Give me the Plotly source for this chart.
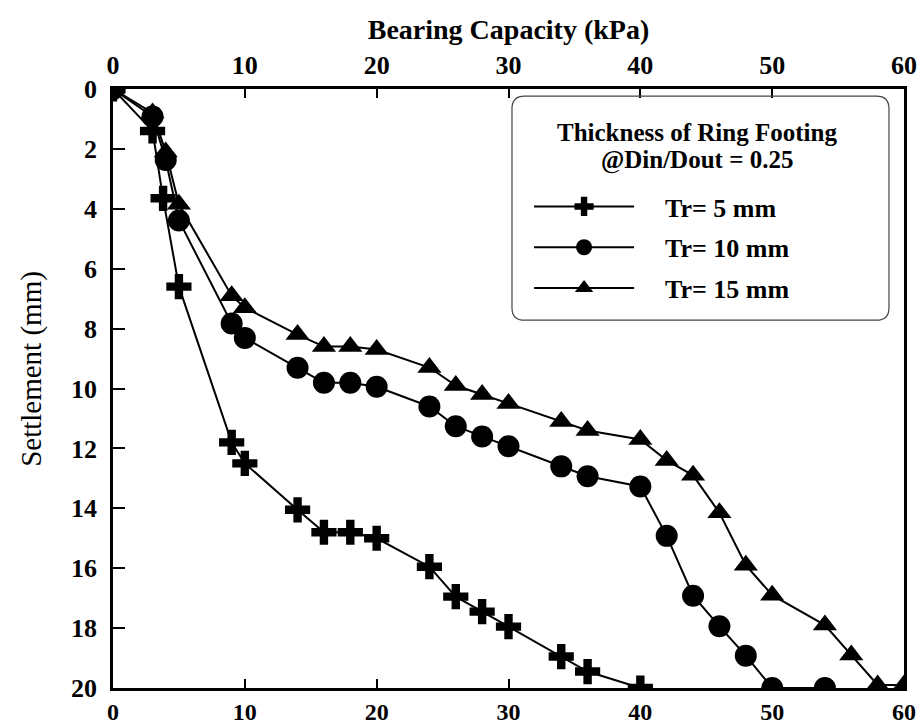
import plotly.graph_objects as go

# ---- data ----
tr5_x = [0, 3, 3.8, 5, 9, 10, 14, 16, 18, 20, 24, 26, 28, 30, 34, 36, 40]
tr5_y = [0, 1.4, 3.65, 6.6, 11.8, 12.5, 14.05, 14.8, 14.8, 15.0, 15.95, 16.95, 17.45, 17.95, 18.95, 19.45, 20]

tr10_x = [0, 3, 4, 5, 9, 10, 14, 16, 18, 20, 24, 26, 28, 30, 34, 36, 40, 42, 44, 46, 48, 50, 54]
tr10_y = [0, 0.92, 2.37, 4.39, 7.83, 8.31, 9.31, 9.81, 9.81, 9.94, 10.6, 11.26, 11.6, 11.93,
          12.6, 12.93, 13.27, 14.92, 16.92, 17.94, 18.92, 20, 20]

tr15_x = [0, 3, 4, 5, 9, 10, 14, 16, 18, 20, 24, 26, 28, 30, 34, 36, 40, 42, 44, 46, 48, 50, 54, 56, 58, 60]
tr15_y = [0, 0.8, 2.1, 3.85, 6.9, 7.3, 8.2, 8.6, 8.6, 8.7, 9.3, 9.9, 10.2, 10.5, 11.1, 11.4,
          11.7, 12.4, 12.9, 14.15, 15.9, 16.9, 17.9, 18.9, 19.9, 19.9]

series_names = ["Tr= 5 mm", "Tr= 10 mm", "Tr= 15 mm"]
legend_title_lines = ["Thickness of Ring Footing", "@Din/Dout = 0.25"]
x_title = "Bearing Capacity (kPa)"
y_title = "Settlement (mm)"
x_ticks = [0, 10, 20, 30, 40, 50, 60]
y_ticks = [0, 2, 4, 6, 8, 10, 12, 14, 16, 18, 20]

FONT = "Liberation Serif, Times New Roman, serif"
PAD = "\u00a0" * 4

fig = go.Figure()

specs = [
    (tr5_x, tr5_y, series_names[0], "cross", 21),
    (tr10_x, tr10_y, series_names[1], "circle", 22),
    (tr15_x, tr15_y, series_names[2], "triangle-up", 21),
]
for i, (xs, ys, name, sym, sz) in enumerate(specs):
    fig.add_trace(go.Scatter(
        x=xs, y=ys, name=PAD + name, mode="lines+markers",
        line=dict(color="black", width=2),
        marker=dict(symbol=sym, size=sz, color="black", line=dict(width=0)),
        xaxis="x", yaxis="y", legendgroup=f"g{i}",
    ))

# invisible helper trace so the bottom x axis is rendered
fig.add_trace(go.Scatter(x=tr15_x, y=tr15_y, xaxis="x2", yaxis="y", mode="lines",
                         line=dict(width=0), opacity=0, showlegend=False, hoverinfo="skip"))

tickfont = dict(family=FONT, size=26, color="black", weight="bold")
bottom_tickfont = dict(family=FONT, size=24, color="black", weight="bold")

fig.update_layout(
    width=921, height=727,
    margin=dict(l=113, r=17, t=89, b=39, autoexpand=False),
    paper_bgcolor="white", plot_bgcolor="white",
    font=dict(family=FONT, color="black"),
    xaxis=dict(
        side="top", range=[0, 60], tickvals=x_ticks, ticks="inside", ticklen=9, tickwidth=2,
        tickcolor="black", showline=True, linecolor="black", linewidth=2.5, showgrid=False,
        zeroline=False, tickfont=tickfont, automargin=False, ticklabelstandoff=2,
        title=dict(text=x_title,
                   font=dict(family=FONT, size=28, weight="bold", color="black"), standoff=4),
    ),
    xaxis2=dict(
        side="bottom", overlaying="x", matches="x", range=[0, 60], tickvals=x_ticks, ticks="inside",
        ticklen=9, tickwidth=2, tickcolor="black", showline=True, linecolor="black", linewidth=2.5,
        showgrid=False, zeroline=False, tickfont=bottom_tickfont, anchor="y", automargin=False,
    ),
    yaxis=dict(
        range=[20, 0], tickvals=y_ticks, ticks="inside", ticklen=12, tickwidth=2, tickcolor="black",
        showline=True, mirror=True, linecolor="black", linewidth=2.5, showgrid=False, zeroline=False,
        tickfont=tickfont, ticklabelstandoff=8, automargin=False,
    ),
    legend=dict(
        x=0.526, xanchor="left", y=0.843, yanchor="top",
        bgcolor="rgba(0,0,0,0)", borderwidth=0,
        font=dict(family=FONT, size=26, color="black", weight="bold"),
        itemwidth=100, traceorder="grouped", tracegroupgap=4,
    ),
    showlegend=True,
)

# y axis title, placed as in the reference (slightly above the axis centre)
fig.add_annotation(text=y_title, xref="paper", yref="paper",
                   x=-0.103, y=0.532, xanchor="center", yanchor="middle", textangle=-90,
                   showarrow=False, font=dict(family=FONT, size=29, color="black"))

# legend heading
for txt, yy in zip(legend_title_lines, [0.927, 0.882]):
    fig.add_annotation(text=txt, xref="paper", yref="paper", x=0.738, y=yy,
                       xanchor="center", yanchor="middle", showarrow=False,
                       font=dict(family=FONT, size=25, color="black", weight="bold"))

# rounded legend frame
x0, x1 = 0.5044, 0.981
y0, y1 = 0.614, 0.988
rx, ry = 0.016, 0.021
path = (f"M {x0+rx},{y1} L {x1-rx},{y1} Q {x1},{y1} {x1},{y1-ry} "
        f"L {x1},{y0+ry} Q {x1},{y0} {x1-rx},{y0} L {x0+rx},{y0} Q {x0},{y0} {x0},{y0+ry} "
        f"L {x0},{y1-ry} Q {x0},{y1} {x0+rx},{y1} Z")
fig.add_shape(type="path", path=path, xref="paper", yref="paper",
              line=dict(color="#444", width=1.2), fillcolor="rgba(0,0,0,0)")

fig.write_html("out.html", config={"displayModeBar": False},
               post_script="document.body.style.margin='0';document.body.style.overflow='hidden';")
